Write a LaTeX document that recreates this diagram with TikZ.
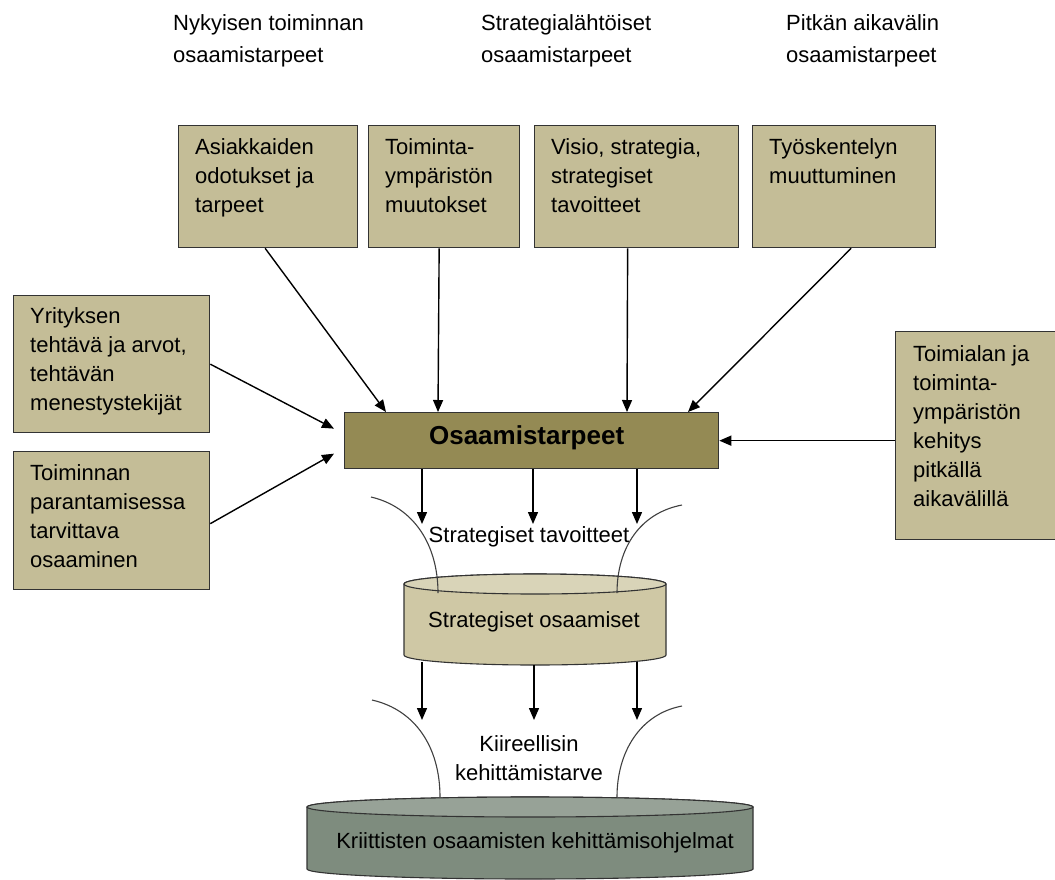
\documentclass[tikz,border=0pt]{standalone}
\usepackage{fontspec}
\setmainfont{Liberation Sans}
\usetikzlibrary{arrows.meta,calc}

\definecolor{tanfill}{HTML}{C4BD97}
\definecolor{olivefill}{HTML}{948A54}
\definecolor{cylbody}{HTML}{CFC8A5}
\definecolor{cyltop}{HTML}{D9D4B8}
\definecolor{greybody}{HTML}{7E8C7E}
\definecolor{greytop}{HTML}{97A297}
\definecolor{edge}{HTML}{333333}

\tikzset{
  txt/.style={font=\fontsize{22}{29}\selectfont, inner sep=0pt, align=left},
  head/.style={font=\fontsize{22}{32}\selectfont, inner sep=0pt, align=left},
  factor/.style={draw=edge, line width=1.3pt, fill=tanfill, anchor=north west},
  arr/.style={-{Triangle[length=12pt,width=10pt]}, line width=1.4pt},
  funnelline/.style={draw=black!75, line width=1.1pt},
  cyledge/.style={draw=edge, line width=1.1pt}
}

\begin{document}
\begin{tikzpicture}[x=1pt,y=-1pt]
\useasboundingbox[fill=white] (0,0) rectangle (1055,879);

% column headings
\node[head, anchor=north west] (h1) at (173,14) {Nykyisen toiminnan\\osaamistarpeet};
\node[head, anchor=north west] (h2) at (481,14) {Strategialähtöiset\\osaamistarpeet};
\node[head, anchor=north west] (h3) at (786,14) {Pitkän aikavälin\\osaamistarpeet};

% factor boxes
\node[factor, minimum width=179, minimum height=122] (b1) at (178,125) {};
\node[factor, minimum width=151, minimum height=122] (b2) at (368,125) {};
\node[factor, minimum width=204, minimum height=122] (b3) at (534,125) {};
\node[factor, minimum width=183, minimum height=122] (b4) at (752,125) {};
\node[factor, minimum width=196, minimum height=137] (l1) at (13,295) {};
\node[factor, minimum width=196, minimum height=138] (l2) at (13,451) {};
\node[factor, minimum width=160, minimum height=208] (r1) at (895,331) {};

\node[txt, anchor=north west] (b1t) at ($(b1.north west)+(17,13)$) {Asiakkaiden\\odotukset ja\\tarpeet};
\node[txt, anchor=north west] (b2t) at ($(b2.north west)+(17,13)$) {Toiminta-\\ympäristön\\muutokset};
\node[txt, anchor=north west] (b3t) at ($(b3.north west)+(17,13)$) {Visio, strategia,\\strategiset\\tavoitteet};
\node[txt, anchor=north west] (b4t) at ($(b4.north west)+(17,13)$) {Työskentelyn\\muuttuminen};
\node[txt, anchor=north west] (l1t) at ($(l1.north west)+(17,12)$) {Yrityksen\\tehtävä ja arvot,\\tehtävän\\menestystekijät};
\node[txt, anchor=north west] (l2t) at ($(l2.north west)+(17,13)$) {Toiminnan\\parantamisessa\\tarvittava\\osaaminen};
\node[txt, anchor=north west] (r1t) at ($(r1.north west)+(18,14)$) {Toimialan ja\\toiminta-\\ympäristön\\kehitys\\pitkällä\\aikavälillä};

% central box
\node[draw=edge, line width=1.3pt, fill=olivefill, anchor=north west,
      minimum width=374, minimum height=56] (main) at (344,412) {};
\node[font=\bfseries\fontsize{26}{30}\selectfont, inner sep=0pt] (maint) at ($(main.center)+(-5,-3)$) {Osaamistarpeet};

% inputs to the central box
\draw[arr] ($(b1.south)+(-3,0)$) -- ($(main.north west)+(42,0)$);
\draw[arr] ($(b2.south)+(-5,0)$) -- ($(main.north west)+(94,0)$);
\draw[arr] ($(b3.south)+(-9,0)$) -- ($(main.north west)+(283,0)$);
\draw[arr] ($(b4.south)+(7,0)$) -- ($(main.north west)+(344,0)$);
\draw[arr] ($(l1.east)+(0,0)$) -- ($(main.west)+(-10,-12)$);
\draw[arr] ($(l2.east)+(0,3)$) -- ($(main.west)+(-10,13)$);
\draw[arr] (r1.west |- main.east) -- (main.east);

% first cylinder: strategic competences
\coordinate (c1top) at (535,584);
\coordinate (c1bot) at (535,655);
\path[cyledge, fill=cylbody] ($(c1top)+(-131,0)$) -- ($(c1bot)+(-131,0)$)
  arc[start angle=180, end angle=360, x radius=131pt, y radius=10pt]
  -- ($(c1top)+(131,0)$)
  arc[start angle=0, end angle=180, x radius=131pt, y radius=10pt] -- cycle;
\draw[cyledge, fill=cyltop] (c1top) ellipse [x radius=131pt, y radius=10pt];
\node[txt] (cyl1) at (534,622) {Strategiset osaamiset};

% second cylinder: development programmes
\coordinate (c2top) at (530,807);
\coordinate (c2bot) at (530,869);
\path[cyledge, fill=greybody] ($(c2top)+(-223,0)$) -- ($(c2bot)+(-223,0)$)
  arc[start angle=180, end angle=360, x radius=223pt, y radius=10pt]
  -- ($(c2top)+(223,0)$)
  arc[start angle=0, end angle=180, x radius=223pt, y radius=10pt] -- cycle;
\draw[cyledge, fill=greytop] (c2top) ellipse [x radius=223pt, y radius=10pt];
\node[txt] (cyl2) at (535,843) {Kriittisten osaamisten kehittämisohjelmat};

% funnel after the central box
\draw[funnelline] (371,497) .. controls (414,507) and (438,545) .. (438,593);
\draw[funnelline] (682,505) .. controls (640,513) and (617,548) .. (617,593);
\node[txt] (goals) at (529,537) {Strategiset tavoitteet};

\coordinate (t1) at (422,524);
\coordinate (t2) at (533,524);
\coordinate (t3) at (637,524);
\draw[arr] (main.south -| t1) -- (t1);
\draw[arr] (main.south -| t2) -- (t2);
\draw[arr] (main.south -| t3) -- (t3);

% funnel after the first cylinder
\draw[funnelline] (372,700) .. controls (416,710) and (440,748) .. (440,797);
\draw[funnelline] (682,706) .. controls (640,714) and (617,752) .. (617,797);
\node[txt, align=center] (urgent) at (529,758) {Kiireellisin\\kehittämistarve};

\coordinate (u1) at (422,720);
\coordinate (u2) at (534,720);
\coordinate (u3) at (637,720);
\draw[arr] (422,662) -- (u1);
\draw[arr] (534,665) -- (u2);
\draw[arr] (637,662) -- (u3);
\end{tikzpicture}
\end{document}
